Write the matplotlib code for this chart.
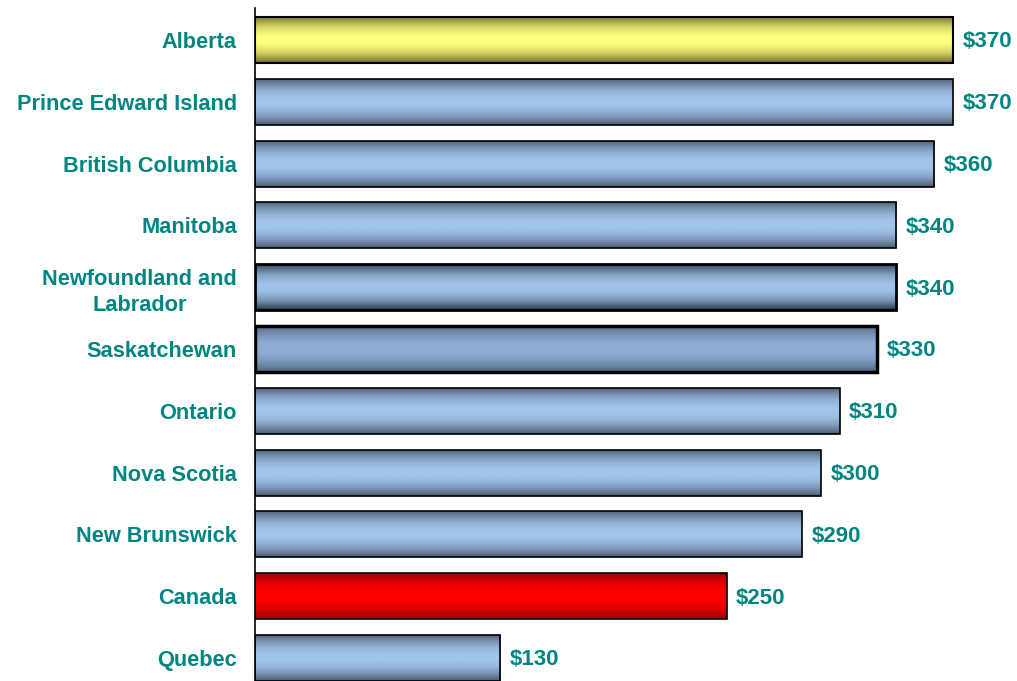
import matplotlib
matplotlib.use("Agg")
import matplotlib.pyplot as plt
import numpy as np
from matplotlib.colors import LinearSegmentedColormap

provinces = ["Alberta", "Prince Edward Island", "British Columbia", "Manitoba",
             "Newfoundland and\nLabrador", "Saskatchewan", "Ontario", "Nova Scotia",
             "New Brunswick", "Canada", "Quebec"]
values = [370, 370, 360, 340, 340, 330, 310, 300, 290, 250, 130]
value_labels = ["$370", "$370", "$360", "$340", "$340", "$330", "$310", "$300",
                "$290", "$250", "$130"]

teal = "#008580"
blue_grad = ("#4a586e", "#a2c5ec")
styles = [
    (("#6a6628", "#ffff80"), 1.5),
    (blue_grad, 1.2),
    (blue_grad, 1.2),
    (blue_grad, 1.2),
    (("#2a3546", "#a0c2ea"), 2.0),
    (("#50617a", "#8fadd6"), 2.5),
    (blue_grad, 1.2),
    (blue_grad, 1.2),
    (blue_grad, 1.2),
    (("#900000", "#ff0000"), 1.2),
    (blue_grad, 1.2),
]

fig = plt.figure(figsize=(10.17, 6.81), dpi=100)
ax = fig.add_axes([255 / 1017, 0, 1 - 255 / 1017, 1 - 8 / 681])

y = np.arange(len(provinces))
bars = ax.barh(y, values, height=0.745, color="none", edgecolor="black", zorder=3)

t = np.linspace(-1, 1, 200)
prof = np.abs(t) ** 2.0
for bar, ((dark, light), lw) in zip(bars, styles):
    bar.set_linewidth(lw)
    cmap = LinearSegmentedColormap.from_list("g", [light, dark])
    x0, y0 = bar.get_x(), bar.get_y()
    w, h = bar.get_width(), bar.get_height()
    im = ax.imshow(prof.reshape(-1, 1), cmap=cmap, vmin=0, vmax=1, aspect="auto",
                   extent=[x0, x0 + w, y0 + h, y0], zorder=2, interpolation="bilinear")
    im.set_clip_path(bar)

for yi, v, lab in zip(y, values, value_labels):
    ax.text(v + 5, yi + 0.03, lab, va="center", ha="left", color=teal,
            fontsize=16, fontweight="bold", family="Liberation Sans")

ax.set_yticks(y)
ax.set_yticklabels(provinces, fontsize=15.7, fontweight="bold", color=teal,
                   family="Liberation Sans", linespacing=1.35)
for lbl in ax.get_yticklabels():
    lbl.set_multialignment("center")
ax.tick_params(axis="y", length=0, pad=13)
ax.set_xticks([])
ax.set_xlim(0, 404)
ax.set_ylim(10.372, -0.518)
for s in ["top", "right", "bottom"]:
    ax.spines[s].set_visible(False)
ax.spines["left"].set_linewidth(1.2)
ax.spines["left"].set_zorder(4)

fig.savefig("out.png", dpi=100)
